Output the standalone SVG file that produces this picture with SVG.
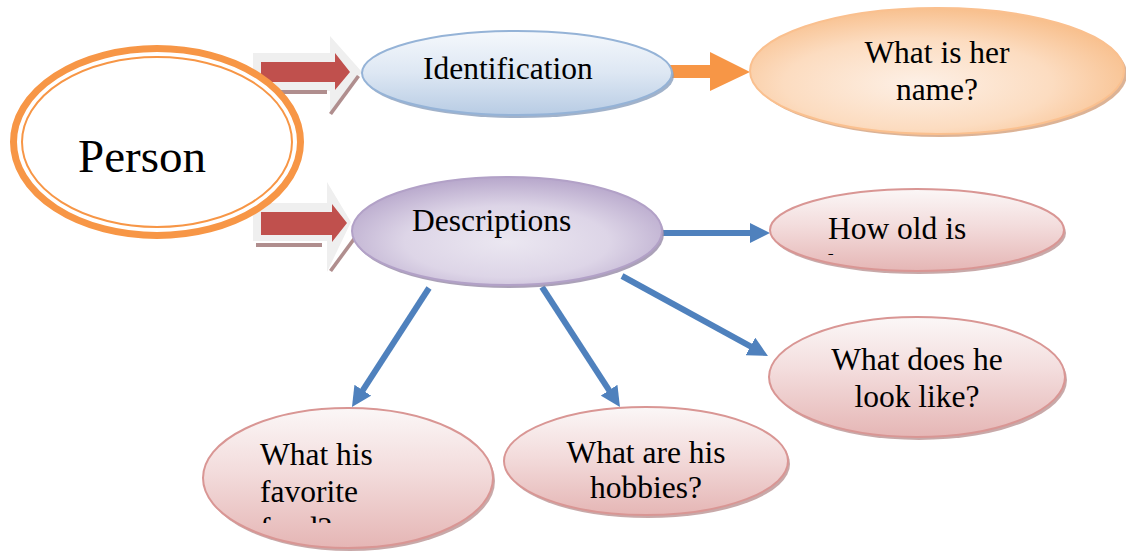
<svg xmlns="http://www.w3.org/2000/svg" width="1126" height="556" viewBox="0 0 1126 556">
<style>
text{font-family:"Liberation Serif","Times New Roman",serif;fill:#000;font-size:31.5px}
.mid{text-anchor:middle}
.blue{stroke:#4f81bd;stroke-width:6;fill:none;marker-end:url(#bh)}
.pink{fill:url(#gPink);stroke:#d99694;stroke-width:2}
.shPink{fill:#b58c8c;opacity:.75}
.blk-bg{fill:#efefef}
.blk-red{fill:#c0504d}
.blk-sh{fill:#b08e8e}
</style>
<defs>
<marker id="bh" viewBox="0 0 20 20" refX="10" refY="10" markerWidth="20" markerHeight="20" markerUnits="userSpaceOnUse" orient="auto">
<path d="M0,0 L20,10 L0,20 z" fill="#4f81bd"/>
</marker>
<linearGradient id="gPink" x1="0" y1="0" x2="0" y2="1">
<stop offset="0" stop-color="#fbf7f7"/>
<stop offset="0.45" stop-color="#f3dcdc"/>
<stop offset="1" stop-color="#e5b6b5"/>
</linearGradient>
<linearGradient id="gBlue" x1="0" y1="0" x2="0" y2="1">
<stop offset="0" stop-color="#f5f8fc"/>
<stop offset="0.5" stop-color="#dde7f3"/>
<stop offset="1" stop-color="#b8cce4"/>
</linearGradient>
<radialGradient id="gPeach" cx="0.45" cy="0.6" r="0.6">
<stop offset="0" stop-color="#fdf0e6"/>
<stop offset="0.6" stop-color="#fcdcc0"/>
<stop offset="1" stop-color="#f8c08e"/>
</radialGradient>
<radialGradient id="gPurple" cx="0.5" cy="0.6" r="0.6">
<stop offset="0" stop-color="#ebe7f1"/>
<stop offset="0.55" stop-color="#ddd5e7"/>
<stop offset="1" stop-color="#b7a7cb"/>
</radialGradient>
<clipPath id="cOld"><rect x="760" y="180" width="320" height="75"/></clipPath>
<clipPath id="cFood"><rect x="200" y="420" width="300" height="103"/></clipPath>
</defs>

<g id="connectors">
<g id="blk1">
<polygon class="blk-bg" points="253,53 330,53 330,36 362,72 330,113 330,91 253,91"/>
<rect class="blk-sh" x="262" y="90" width="65" height="4"/>
<polygon class="blk-sh" points="329,113 357,75 360,77 332,115"/>
<polygon class="blk-red" points="261,62 335,62 335,53 350,72 335,90 335,82 261,82"/>
</g>
<g id="blk2">
<polygon class="blk-bg" points="253,203 327,203 327,182 351,222 327,272 327,241 253,241"/>
<rect class="blk-sh" x="256" y="243" width="66" height="4"/>
<polygon class="blk-sh" points="329,270 354,236 357,238 332,272"/>
<polygon class="blk-red" points="261,212 332,212 332,204 347,223 332,242 332,235 261,235"/>
</g>
<polygon id="orangeArrow" fill="#f79646" points="668,65 710,65 710,52 750,72 710,91 710,78 668,78"/>
<line class="blue" x1="662" y1="233" x2="760" y2="233"/>
<line class="blue" x1="622" y1="276" x2="759.2" y2="351.2"/>
<line class="blue" x1="429" y1="288" x2="357.4" y2="398.6"/>
<line class="blue" x1="542" y1="287" x2="614.5" y2="398.6"/>
</g>

<g id="person">
<ellipse cx="157" cy="142" rx="143.5" ry="93.5" fill="#fff" stroke="#f79646" stroke-width="7"/>
<ellipse cx="157" cy="142" rx="135" ry="85" fill="none" stroke="#f79646" stroke-width="2"/>
<text x="142" y="172" class="mid" style="font-size:47px">Person</text>
</g>

<g id="identification">
<ellipse cx="519" cy="76" rx="155" ry="42" fill="#8a9fbd" opacity=".8"/>
<ellipse cx="517" cy="73" rx="155" ry="42" fill="url(#gBlue)" stroke="#95b3d7" stroke-width="2"/>
<text x="423" y="79">Identification</text>
</g>

<g id="name">
<ellipse cx="940" cy="74" rx="187" ry="63" fill="#d09a73" opacity=".75"/>
<ellipse cx="937" cy="71" rx="187" ry="63" fill="url(#gPeach)" stroke="#fac08f" stroke-width="2"/>
<text x="937" y="63" class="mid">What is her</text>
<text x="937" y="100" class="mid">name?</text>
</g>

<g id="descriptions">
<ellipse cx="509" cy="234" rx="155" ry="54" fill="#9c90ab" opacity=".85"/>
<ellipse cx="507" cy="231" rx="155" ry="54" fill="url(#gPurple)" stroke="#b2a1c7" stroke-width="2"/>
<text x="412" y="231">Descriptions</text>
</g>

<g id="age">
<ellipse class="shPink" cx="919" cy="233" rx="147" ry="41"/>
<ellipse class="pink" cx="917" cy="230" rx="147" ry="41"/>
<g clip-path="url(#cOld)">
<text x="828" y="239">How old is</text>
<text x="828" y="276">her?</text>
</g>
</g>

<g id="looks">
<ellipse class="shPink" cx="919" cy="380" rx="148" ry="60"/>
<ellipse class="pink" cx="917" cy="377" rx="148" ry="60"/>
<text x="917" y="370" class="mid">What does he</text>
<text x="917" y="407" class="mid">look like?</text>
</g>

<g id="food">
<ellipse class="shPink" cx="350" cy="481" rx="145" ry="70"/>
<ellipse class="pink" cx="348" cy="478" rx="145" ry="70"/>
<g clip-path="url(#cFood)">
<text x="260" y="465">What his</text>
<text x="260" y="502">favorite</text>
<text x="260" y="539">food?</text>
</g>
</g>

<g id="hobbies">
<ellipse class="shPink" cx="648" cy="464" rx="142" ry="54"/>
<ellipse class="pink" cx="646" cy="461" rx="142" ry="54"/>
<text x="646" y="463" class="mid">What are his</text>
<text x="646" y="498" class="mid">hobbies?</text>
</g>
</svg>
